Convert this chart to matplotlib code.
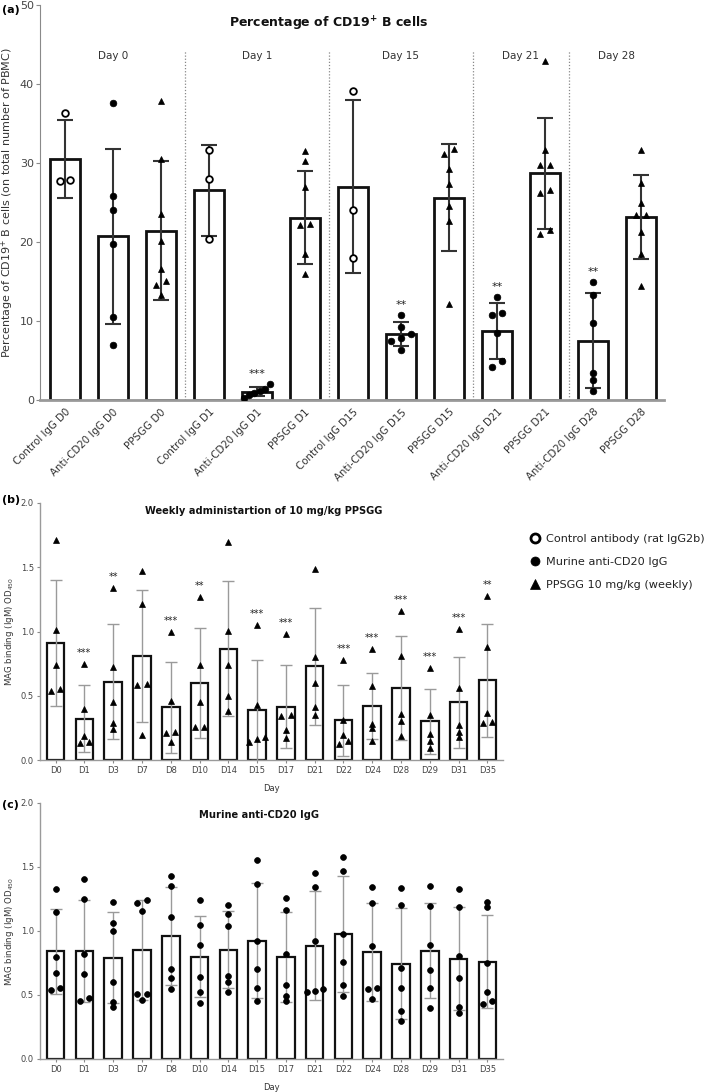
import numpy as np
import matplotlib
matplotlib.use('Agg')
import matplotlib.pyplot as plt
from matplotlib.lines import Line2D

plt.rcParams['font.family'] = ['DejaVu Sans']

# ---------------- Panel (a) data ----------------
a_labels = ['Control IgG D0', 'Anti-CD20 IgG D0', 'PPSGG D0',
            'Control IgG D1', 'Anti-CD20 IgG D1', 'PPSGG D1',
            'Control IgG D15', 'Anti-CD20 IgG D15', 'PPSGG D15',
            'Anti-CD20 IgG D21', 'PPSGG D21',
            'Anti-CD20 IgG D28', 'PPSGG D28']
a_kind = ['control', 'anti', 'ppsgg', 'control', 'anti', 'ppsgg',
          'control', 'anti', 'ppsgg', 'anti', 'ppsgg', 'anti', 'ppsgg']
a_means = [30.5, 20.7, 21.45, 26.55, 1.05, 23.1, 27.0, 8.35, 25.6, 8.7, 28.7, 7.5, 23.2]
a_sd = [4.95, 11.1, 8.75, 5.75, 0.6, 5.9, 10.95, 1.55, 6.8, 3.55, 7.0, 6.0, 5.3]
a_points = [
    [36.3, 27.7, 27.8],
    [37.6, 25.8, 24.1, 19.8, 10.5, 7.0],
    [37.8, 30.5, 23.6, 20.1, 16.6, 15.1, 14.6, 13.3],
    [31.6, 28.0, 20.4],
    [2.0, 1.4, 1.2, 0.9, 0.6, 0.3],
    [31.5, 30.3, 27.0, 22.3, 22.2, 18.5, 16.0],
    [39.1, 24.0, 18.0],
    [10.8, 9.3, 8.3, 7.9, 7.5, 6.3],
    [31.8, 31.1, 29.2, 27.4, 24.5, 22.7, 12.1],
    [13.1, 11.0, 10.8, 8.5, 5.0, 4.2],
    [42.9, 31.6, 29.7, 29.7, 26.6, 26.2, 21.5, 21.0],
    [15.0, 13.3, 9.8, 3.4, 2.5, 1.1],
    [31.6, 27.5, 24.9, 23.4, 23.4, 21.3, 18.5, 14.4],
]
a_stars = ['', '', '', '', '***', '', '', '**', '', '**', '', '**', '']
day_groups = ['Day 0', 'Day 1', 'Day 15', 'Day 21', 'Day 28']
group_sizes = [3, 3, 3, 2, 2]

# ---------------- Panel (b) data ----------------
days = ['D0', 'D1', 'D3', 'D7', 'D8', 'D10', 'D14', 'D15', 'D17', 'D21',
        'D22', 'D24', 'D28', 'D29', 'D31', 'D35']
b_means = [0.91, 0.32, 0.61, 0.81, 0.41, 0.60, 0.865, 0.39, 0.415, 0.73,
           0.31, 0.42, 0.56, 0.30, 0.45, 0.62]
b_sd = [0.49, 0.26, 0.45, 0.515, 0.355, 0.43, 0.525, 0.39, 0.325, 0.455,
        0.275, 0.255, 0.405, 0.25, 0.355, 0.44]
b_points = [
    [1.714, 1.013, 0.74, 0.553, 0.538],
    [0.745, 0.40, 0.184, 0.143, 0.132],
    [1.34, 0.725, 0.452, 0.291, 0.244],
    [1.47, 1.213, 0.595, 0.587, 0.197],
    [0.997, 0.46, 0.218, 0.213, 0.14],
    [1.27, 0.743, 0.452, 0.257, 0.257],
    [1.70, 1.003, 0.738, 0.496, 0.382],
    [1.049, 0.431, 0.179, 0.161, 0.14],
    [0.979, 0.353, 0.34, 0.231, 0.174],
    [1.483, 0.803, 0.60, 0.413, 0.348],
    [0.777, 0.309, 0.192, 0.148, 0.122],
    [0.86, 0.574, 0.283, 0.252, 0.148],
    [1.158, 0.808, 0.361, 0.304, 0.184],
    [0.717, 0.348, 0.20, 0.148, 0.096],
    [1.018, 0.561, 0.275, 0.218, 0.179],
    [1.278, 0.881, 0.369, 0.296, 0.288],
]
b_stars = ['', '***', '**', '', '***', '**', '', '***', '***', '', '***',
           '***', '***', '***', '***', '**']

# ---------------- Panel (c) data ----------------
c_means = [0.84, 0.845, 0.79, 0.85, 0.96, 0.80, 0.855, 0.925, 0.795, 0.885,
           0.975, 0.835, 0.745, 0.845, 0.785, 0.76]
c_sd = [0.33, 0.40, 0.355, 0.39, 0.385, 0.317, 0.30, 0.45, 0.35, 0.425,
        0.455, 0.38, 0.435, 0.37, 0.40, 0.365]
c_points = [
    [1.326, 1.146, 0.799, 0.674, 0.551, 0.538],
    [1.405, 1.25, 0.82, 0.663, 0.48, 0.45],
    [1.23, 1.06, 1.00, 0.60, 0.445, 0.405],
    [1.24, 1.22, 1.16, 0.51, 0.51, 0.46],
    [1.43, 1.355, 1.11, 0.70, 0.635, 0.545],
    [1.245, 1.05, 0.89, 0.64, 0.52, 0.44],
    [1.20, 1.135, 1.04, 0.645, 0.605, 0.52],
    [1.555, 1.37, 0.925, 0.70, 0.555, 0.45],
    [1.26, 1.165, 0.82, 0.58, 0.49, 0.455],
    [1.455, 1.34, 0.925, 0.545, 0.535, 0.525],
    [1.575, 1.465, 0.975, 0.76, 0.575, 0.495],
    [1.347, 1.217, 0.885, 0.551, 0.543, 0.467],
    [1.339, 1.201, 0.713, 0.556, 0.373, 0.298],
    [1.35, 1.198, 0.89, 0.695, 0.551, 0.399],
    [1.326, 1.185, 0.804, 0.634, 0.407, 0.363],
    [1.23, 1.19, 0.747, 0.52, 0.454, 0.433],
]

legend_labels = ['Control antibody (rat IgG2b)', 'Murine anti-CD20 IgG',
                 'PPSGG 10 mg/kg (weekly)']

# ---------------- helpers ----------------
W, H = 709, 1092


def rect(l, t, r, b):
    return [l / W, 1 - b / H, (r - l) / W, (b - t) / H]


def spread(vals, thresh, step, maxw):
    vals = np.asarray(vals, float)
    order = np.argsort(vals)
    offs = np.zeros(len(vals))
    groups, cur = [], [order[0]]
    for i in order[1:]:
        if vals[i] - vals[cur[-1]] < thresh:
            cur.append(i)
        else:
            groups.append(cur)
            cur = [i]
    groups.append(cur)
    for g in groups:
        n = len(g)
        st = step if n <= 2 else min(step, maxw / (n - 1))
        for k, idx in enumerate(g):
            offs[idx] = (k - (n - 1) / 2) * st
    return offs


marker_style = {
    'control': dict(marker='o', mfc='white', mec='black', mew=1.3, ms=4.8),
    'anti': dict(marker='o', mfc='black', mec='black', mew=0.5, ms=4.8),
    'ppsgg': dict(marker='^', mfc='black', mec='black', mew=0.5, ms=4.8),
}

tick_col = '#444444'
spine_col = '#8a8a8a'

fig = plt.figure(figsize=(W / 100, H / 100), dpi=100)

# ================= Panel (a) =================
ax = fig.add_axes(rect(40, 5, 664, 400))
xa = np.arange(len(a_labels))
ax.bar(xa, a_means, width=0.62, color='white', edgecolor='#111111',
       linewidth=2.0, zorder=1)
ax.errorbar(xa, a_means, yerr=a_sd, fmt='none', ecolor='#333333',
            elinewidth=1.5, capsize=6, capthick=1.5, zorder=2)
for i, pts in enumerate(a_points):
    offs = spread(pts, 0.8, 0.21, 0.55)
    ax.plot(xa[i] + offs, pts, linestyle='none', zorder=3,
            **marker_style[a_kind[i]])
    if a_stars[i]:
        ax.annotate(a_stars[i], (xa[i], max(pts)), xytext=(0, 10),
                    textcoords='offset pixels', ha='center', va='center',
                    fontsize=8, color='#222222')
# day separators and group labels
bounds = np.cumsum(group_sizes)
start = 0
for g, size in zip(day_groups, group_sizes):
    centre = start + (size - 1) / 2
    ax.text(centre, 43.5, g, ha='center', va='center', fontsize=7.5,
            color='#333333')
    start += size
for b in bounds[:-1]:
    ax.plot([b - 0.5, b - 0.5], [0, 44.2], linestyle=(0, (1, 1.5)),
            color='#888888', linewidth=0.9, zorder=0)
ax.set_xlim(-0.52, 12.48)
ax.set_ylim(0, 50)
ax.set_yticks([0, 10, 20, 30, 40, 50])
ax.set_xticks(xa)
ax.set_xticklabels(a_labels, rotation=45, ha='right', rotation_mode='anchor',
                   fontsize=7.4, color='#333333')
ax.tick_params(axis='x', length=0, pad=5)
ax.tick_params(axis='y', labelsize=8, labelcolor=tick_col, color=spine_col,
               length=3, pad=1.5)
for s in ['top', 'right']:
    ax.spines[s].set_visible(False)
ax.spines['left'].set_color(spine_col)
ax.spines['bottom'].set_color('#999999')
ax.spines['bottom'].set_linewidth(2)
ax.set_ylabel('Percentage of CD19$^{+}$ B cells (on total number of PBMC)',
              fontsize=8.0, color='#333333', labelpad=2.5)
ax.text(0.463, 0.952, r'Percentage of CD19$^{\mathbf{+}}$ B cells',
        transform=ax.transAxes, ha='center', va='center', fontsize=9.0,
        fontweight='bold', color='#111111')
fig.text(2 / W, 1 - 10 / H, '(a)', fontsize=8, fontweight='bold',
         ha='left', va='center')


# ================= Panels (b), (c) =================
def od_panel(ax, means, sd, pts_list, kind, title, tx, ty, stars=None):
    x = np.arange(len(days))
    ax.bar(x, means, width=0.61, color='white', edgecolor='#111111',
           linewidth=1.6, zorder=1)
    ax.errorbar(x, means, yerr=sd, fmt='none', ecolor='#9a9a9a',
                elinewidth=1.0, capsize=4.5, capthick=1.0, zorder=2)
    st = dict(marker_style[kind])
    st['ms'] = 4.2
    for i, pts in enumerate(pts_list):
        offs = spread(pts, 0.03, 0.33, 0.55)
        ax.plot(x[i] + offs, pts, linestyle='none', zorder=3, **st)
        if stars and stars[i]:
            ax.annotate(stars[i], (x[i], max(pts)), xytext=(0, 11),
                        textcoords='offset pixels', ha='center',
                        va='center', fontsize=7, color='#222222')
    ax.set_xlim(-0.54, 15.54)
    ax.set_ylim(0, 2.0)
    ax.set_yticks([0.0, 0.5, 1.0, 1.5, 2.0])
    ax.set_yticklabels(['0.0', '0.5', '1.0', '1.5', '2.0'])
    ax.set_xticks(x)
    ax.set_xticklabels(days)
    ax.tick_params(axis='both', labelsize=6, labelcolor=tick_col,
                   color=spine_col, length=2.5, pad=2)
    for s in ['top', 'right']:
        ax.spines[s].set_visible(False)
    for s in ['left', 'bottom']:
        ax.spines[s].set_color('#9a9a9a')
        ax.spines[s].set_linewidth(1.0)
    ax.set_xlabel('Day', fontsize=6, color='#333333', labelpad=6)
    ax.set_ylabel('MAG binding (IgM) OD$_{450}$', fontsize=6.2,
                  color='#333333', labelpad=3)
    ax.text(tx, ty, title, transform=ax.transAxes, ha='center', va='center',
            fontsize=7.15, fontweight='bold', color='#111111')


axb = fig.add_axes(rect(40, 503, 503, 760))
od_panel(axb, b_means, b_sd, b_points, 'ppsgg',
         'Weekly administartion of 10 mg/kg PPSGG', 0.484, 0.969, b_stars)
fig.text(2 / W, 1 - 500 / H, '(b)', fontsize=8, fontweight='bold',
         ha='left', va='center')

axc = fig.add_axes(rect(40, 803, 503, 1059))
od_panel(axc, c_means, c_sd, c_points, 'anti',
         'Murine anti-CD20 IgG', 0.473, 0.953)
fig.text(2 / W, 1 - 805 / H, '(c)', fontsize=8, fontweight='bold',
         ha='left', va='center')

# ================= Legend =================
handles = [Line2D([], [], linestyle='none', **dict(marker_style[k], ms=6.5))
           for k in ['control', 'anti', 'ppsgg']]
handles[0].set_markeredgewidth(2.0)
fig.legend(handles, legend_labels, loc='upper left',
           bbox_to_anchor=(529 / W, 1 - 534 / H), frameon=False,
           fontsize=8.1, handlelength=1.0, handletextpad=0.55,
           labelspacing=1.15, borderpad=0, borderaxespad=0,
           labelcolor='#222222')

fig.savefig('out.png', dpi=100)
